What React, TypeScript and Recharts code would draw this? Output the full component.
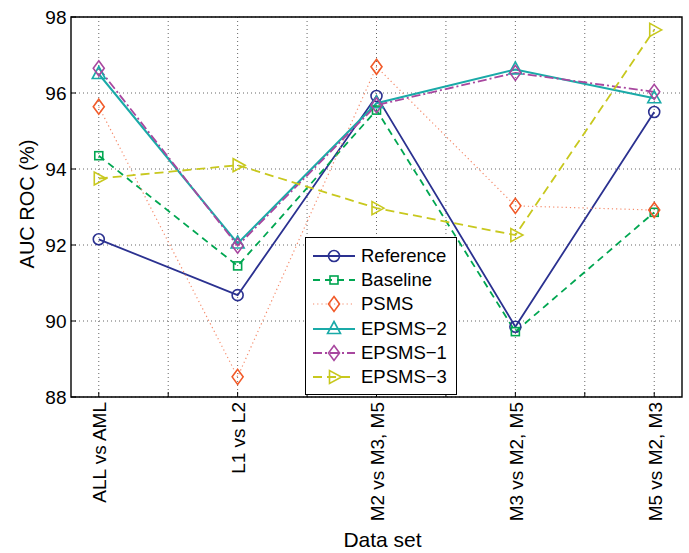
import React from 'react';
import {
  LineChart,
  Line,
  XAxis,
  YAxis,
  CartesianGrid,
  ReferenceArea,
  Label,
} from 'recharts';

const categories = ['ALL vs AML', 'L1 vs L2', 'M2 vs M3, M5', 'M3 vs M2, M5', 'M5 vs M2, M3'];
const xTicks = [1, 1.5, 2, 2.5, 3, 3.5, 4, 4.5, 5];
const yTicks = [88, 90, 92, 94, 96, 98];

const reference = [92.15, 90.68, 95.92, 89.85, 95.5];
const baseline = [94.35, 91.45, 95.55, 89.72, 92.86];
const psms = [95.64, 88.53, 96.69, 93.03, 92.92];
const epsms2 = [96.5, 92.04, 95.73, 96.62, 95.86];
const epsms1 = [96.65, 91.98, 95.68, 96.53, 96.03];
const epsms3 = [93.75, 94.1, 92.97, 92.26, 97.66];

const FONT = '"Liberation Sans", Arial, Helvetica, sans-serif';
const X_DOMAIN = [0.8, 5.2];

type Shape = 'circle' | 'square' | 'diamond' | 'triUp' | 'triRight';

const series = [
  { key: 'Reference', values: reference, color: '#2b3190', dash: undefined, width: 1.8, shape: 'circle' as Shape },
  { key: 'Baseline', values: baseline, color: '#00a651', dash: '7 5', width: 1.8, shape: 'square' as Shape },
  { key: 'PSMS', values: psms, color: '#f15a29', dash: '1.2 3', width: 1.2, shape: 'diamond' as Shape, lineColor: '#f58a6a' },
  { key: 'EPSMS-2', values: epsms2, color: '#1aaaa8', dash: undefined, width: 2, shape: 'triUp' as Shape },
  { key: 'EPSMS-1', values: epsms1, color: '#a8479f', dash: '9 3 2 3', width: 1.8, shape: 'diamond' as Shape },
  { key: 'EPSMS-3', values: epsms3, color: '#c8c81e', dash: '9 5', width: 1.8, shape: 'triRight' as Shape },
];

const data = categories.map((c, i) => {
  const row: Record<string, number | string> = { x: i + 1, name: c };
  series.forEach((s) => {
    row[s.key] = s.values[i];
  });
  return row;
});

function marker(shape: Shape, cx: number, cy: number, color: string, key?: string | number) {
  const common = { fill: 'none', stroke: color, strokeWidth: 1.6, key };
  switch (shape) {
    case 'circle':
      return <circle {...common} cx={cx} cy={cy} r={5.5} />;
    case 'square':
      return <rect {...common} x={cx - 4} y={cy - 4} width={8} height={8} />;
    case 'diamond':
      return <polygon {...common} points={`${cx},${cy - 7.5} ${cx + 5.5},${cy} ${cx},${cy + 7.5} ${cx - 5.5},${cy}`} />;
    case 'triUp':
      return <polygon {...common} points={`${cx},${cy - 7.5} ${cx + 6.5},${cy + 4.5} ${cx - 6.5},${cy + 4.5}`} />;
    case 'triRight':
      return <polygon {...common} points={`${cx + 7.5},${cy} ${cx - 4.5},${cy + 6.5} ${cx - 4.5},${cy - 6.5}`} />;
  }
}

const makeDot = (shape: Shape, color: string) => (props: any) => {
  const { cx, cy, index } = props;
  return marker(shape, cx, cy, color, index) as React.ReactElement;
};

const XTick = (props: any) => {
  const { x, y, payload } = props;
  const v = payload.value;
  const label = Number.isInteger(v) ? categories[v - 1] : '';
  return (
    <g>
      <line x1={x} y1={y} x2={x} y2={y - 5} stroke="#000" />
      {label && (
        <text
          transform={`translate(${x + 7.5},${y + 5}) rotate(-90)`}
          textAnchor="end"
          fontSize={19}
          fontFamily={FONT}
          fill="#000"
        >
          {label}
        </text>
      )}
    </g>
  );
};

const TopTick = (props: any) => {
  const { x, y } = props;
  return <line x1={x} y1={y} x2={x} y2={y + 5} stroke="#000" />;
};

const YTick = (props: any) => {
  const { x, y, payload } = props;
  return (
    <g>
      <line x1={x} y1={y} x2={x + 5} y2={y} stroke="#000" />
      <text x={x - 4.5} y={y} dy="0.36em" textAnchor="end" fontSize={19} fontFamily={FONT} fill="#000">
        {payload.value}
      </text>
    </g>
  );
};

const RightTick = (props: any) => {
  const { x, y } = props;
  return <line x1={x} y1={y} x2={x - 5} y2={y} stroke="#000" />;
};

function LegendBox() {
  return (
    <div
      style={{
        position: 'absolute',
        left: 305,
        top: 237,
        width: 150,
        height: 150,
        border: '1px solid #000',
        background: '#fff',
        paddingTop: 6,
        boxSizing: 'content-box',
        fontFamily: FONT,
        fontSize: 18.5,
      }}
    >
      {series.map((s) => (
        <div key={s.key} style={{ display: 'flex', alignItems: 'center', height: 24.2 }}>
          <svg width={52} height={24} style={{ marginLeft: 3 }}>
            <line
              x1={4}
              y1={12}
              x2={46}
              y2={12}
              stroke={s.lineColor || s.color}
              strokeWidth={s.width}
              strokeDasharray={s.dash}
            />
            {marker(s.shape, 25, 12, s.color)}
          </svg>
          <span style={{ marginLeft: 0, color: '#000' }}>{s.key.replace('-', '\u2212')}</span>
        </div>
      ))}
    </div>
  );
}

export default function App() {
  return (
    <div style={{ position: 'absolute', left: 0, top: 0, width: 689, height: 553, background: '#fff' }}>
      <LineChart width={689} height={553} data={data} margin={{ top: 17, right: 7, left: 0, bottom: 0 }}>
        <CartesianGrid stroke="#666" strokeDasharray="1 3" verticalValues={xTicks} horizontalValues={yTicks} />
        <XAxis
          dataKey="x"
          type="number"
          domain={X_DOMAIN}
          ticks={xTicks}
          interval={0}
          height={156}
          axisLine={false}
          tickLine={false}
          tickSize={0}
          tickMargin={0}
          tick={<XTick />}
          allowDataOverflow
        >
          <Label
            content={({ viewBox }: any) => (
              <text
                x={viewBox.x + viewBox.width / 2 + 6}
                y={viewBox.y + viewBox.height - 6}
                textAnchor="middle"
                fontSize={21}
                fontFamily={FONT}
                fill="#000"
              >
                Data set
              </text>
            )}
          />
        </XAxis>
        <XAxis
          xAxisId="top"
          orientation="top"
          type="number"
          domain={X_DOMAIN}
          ticks={xTicks}
          interval={0}
          height={0}
          axisLine={false}
          tickLine={false}
          tickSize={0}
          tickMargin={0}
          tick={<TopTick />}
          allowDataOverflow
        />
        <YAxis
          type="number"
          domain={[88, 98]}
          ticks={yTicks}
          interval={0}
          width={71}
          axisLine={false}
          tickLine={false}
          tickSize={0}
          tickMargin={0}
          tick={<YTick />}
          allowDataOverflow
        >
          <Label
            content={({ viewBox }: any) => (
              <text
                transform={`translate(34,${viewBox.y + viewBox.height / 2 - 3}) rotate(-90)`}
                textAnchor="middle"
                fontSize={20}
                fontFamily={FONT}
                fill="#000"
              >
                AUC ROC (%)
              </text>
            )}
          />
        </YAxis>
        <YAxis
          yAxisId="right"
          orientation="right"
          type="number"
          domain={[88, 98]}
          ticks={yTicks}
          interval={0}
          width={0}
          axisLine={false}
          tickLine={false}
          tickSize={0}
          tickMargin={0}
          tick={<RightTick />}
          allowDataOverflow
        />
        <ReferenceArea x1={0.8} x2={5.2} y1={88} y2={98} fill="none" stroke="#000" strokeWidth={1.4} ifOverflow="visible" />
        {series.map((s) => (
          <Line
            key={s.key}
            dataKey={s.key}
            type="linear"
            stroke={s.lineColor || s.color}
            strokeWidth={s.width}
            strokeDasharray={s.dash}
            dot={makeDot(s.shape, s.color)}
            activeDot={false}
            isAnimationActive={false}
          />
        ))}
      </LineChart>
      <LegendBox />
    </div>
  );
}
